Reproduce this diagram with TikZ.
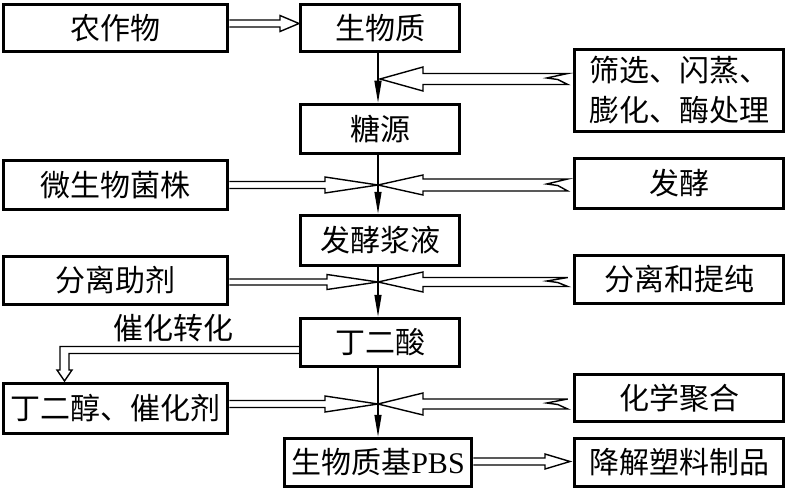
\documentclass[tikz,border=0pt]{standalone}
\usepackage{fontspec}
\setmainfont{Noto Sans CJK SC}
\newfontfamily\latinserif{Liberation Serif}
\usetikzlibrary{calc,arrows.meta}
\tikzset{
  box/.style={draw, line width=3.5pt, inner sep=0pt, align=center,
    font=\fontsize{30}{40}\selectfont},
  lbl/.style={inner sep=0pt, font=\fontsize{30}{40}\selectfont},
  conn/.style={line width=1.4pt, line join=miter},
  varrow/.style={conn, -{Triangle[length=22pt,width=7pt]}}
}
% hollow arrow pointing right: #1 start anchor, #2 tip, #3 shaft half, #4 head half, #5 head length
\newcommand\arrowR[5]{%
  \draw[conn] ($(#1|-#2)+(0,-#3)$) -- ($(#2)+(-#5,-#3)$) -- ($(#2)+(-#5,-#4)$) -- (#2)
    -- ($(#2)+(-#5,#4)$) -- ($(#2)+(-#5,#3)$) -- ($(#1|-#2)+(0,#3)$);}
% hollow arrow pointing left with break mark at its start
\newcommand\arrowL[5]{%
  \coordinate (zz) at ($(#1|-#2)+(-5,0)$);
  \draw[conn] ($(zz)+(0,-#3)$) -- ($(#2)+(#5,-#3)$) -- ($(#2)+(#5,-#4)$) -- (#2)
    -- ($(#2)+(#5,#4)$) -- ($(#2)+(#5,#3)$) -- ($(zz)+(0,#3)$)
    -- ($(zz)+(-10,0.5)$) -- ($(zz)+(-21,-1)$) -- cycle;}
\begin{document}
\begin{tikzpicture}[x=1pt,y=-1pt]
\useasboundingbox (0,0) rectangle (789,492);
% boxes
\node[box, minimum width=224pt, minimum height=47pt] (crop) at (115.5,28) {农作物};
\node[box, minimum width=159pt, minimum height=47pt] (bio) at (380,28) {生物质};
\node[box, minimum width=209pt, minimum height=82pt] (sieve) at (679,90.5) {筛选、闪蒸、\\膨化、酶处理};
\node[box, minimum width=159pt, minimum height=49pt] (sugar) at (380,129) {糖源};
\node[box, minimum width=224pt, minimum height=49pt] (micro) at (115.5,185) {微生物菌株};
\node[box, minimum width=209pt, minimum height=50pt] (ferm) at (679,183.5) {发酵};
\node[box, minimum width=159pt, minimum height=50pt] (broth) at (380,240.5) {发酵浆液};
\node[box, minimum width=224pt, minimum height=48pt] (sepaid) at (115.5,280.5) {分离助剂};
\node[box, minimum width=209pt, minimum height=48pt] (purify) at (679,279.5) {分离和提纯};
\node[box, minimum width=159pt, minimum height=48pt] (sa) at (380,342.5) {丁二酸};
\node[box, minimum width=224pt, minimum height=50pt] (bdo) at (115.5,408.5) {丁二醇、催化剂};
\node[box, minimum width=209pt, minimum height=47pt] (poly) at (679,398) {化学聚合};
\node[box, minimum width=187pt, minimum height=48pt] (pbs) at (378,462.5) {生物质基{\latinserif PBS}};
\node[box, minimum width=209pt, minimum height=48pt] (plastic) at (679,462.5) {降解塑料制品};
\node[lbl] (cat) at (173,328) {催化转化};
% reference points
\coordinate (vx) at (378,0);
\coordinate (t0) at (299,23.5);
\coordinate (c1) at (380,79);
\coordinate (c2) at (378,185);
\coordinate (c3) at (378,282);
\coordinate (c4) at (378,404);
\coordinate (t6) at (570,461.5);
% vertical flow
\draw[varrow] (bio.south -| vx) -- (sugar.north -| vx);
\draw[varrow] (sugar.south -| vx) -- (broth.north -| vx);
\draw[varrow] (broth.south -| vx) -- (sa.north -| vx);
\draw[varrow] (sa.south -| vx) -- (pbs.north -| vx);
% hollow arrows
\arrowR{crop.east}{t0}{3.5}{8}{19}
\arrowL{sieve.west}{c1}{5.5}{12}{43}
\arrowR{micro.east}{c2}{3.5}{8}{53}
\arrowL{ferm.west}{c2}{6}{10}{45}
\arrowR{sepaid.east}{c3}{3}{7.5}{51}
\arrowL{purify.west}{c3}{4.5}{10}{45}
\arrowR{bdo.east}{c4}{3.5}{8}{53}
\arrowL{poly.west}{c4}{5}{11}{45}
\arrowR{pbs.east}{t6}{3.5}{7.5}{25}
% catalytic conversion branch
\draw[conn] (sa.west |- 0,346.5) -- (60,346.5) -- (60,370) -- (57,370) -- (64.5,381)
  -- (72,370) -- (69,370) -- (69,353.5) -- (sa.west |- 0,353.5);
\end{tikzpicture}
\end{document}
